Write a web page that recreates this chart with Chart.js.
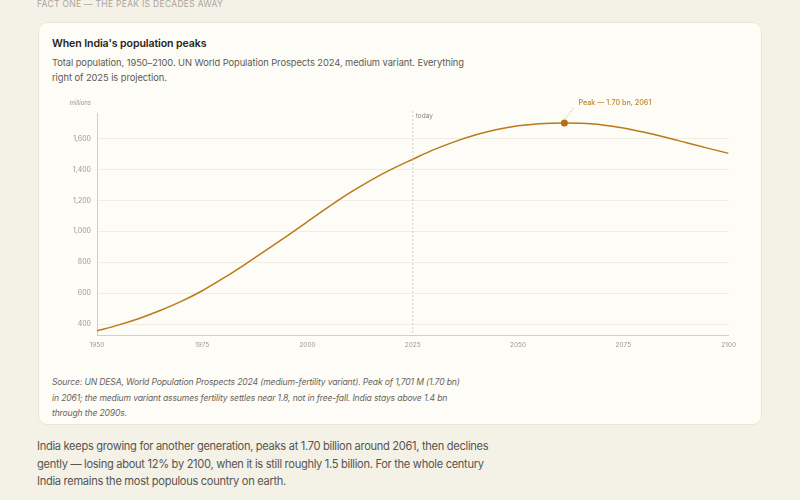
<!DOCTYPE html>
<html>
<head>
<meta charset="utf-8">
<script src="https://cdn.jsdelivr.net/npm/chart.js@4.4.1/dist/chart.umd.min.js"></script>
<style>
  html, body { margin: 0; padding: 0; }
  body {
    width: 800px; height: 500px; overflow: hidden;
    background: #f4f1e7;
    font-family: Inter, "Noto Sans", sans-serif;
    position: relative;
  }
  .kicker {
    position: absolute; left: 37px; top: -1px;
    font-size: 8.5px; letter-spacing: 0.3px; color: #a9a69c;
  }
  .card {
    position: absolute; left: 38px; top: 22px; width: 724px; height: 403px;
    background: #fefcf6; border: 1px solid #ebe6d8; border-radius: 9px;
    box-sizing: border-box;
  }
  .title {
    position: absolute; left: 13px; top: 14px;
    font-size: 10.6px; font-weight: 600; color: #262523; letter-spacing: -0.1px;
  }
  .sub {
    position: absolute; left: 13px; top: 33px; width: 420px;
    font-size: 9.3px; line-height: 14.5px; color: #5c5a55; letter-spacing: -0.05px;
  }
  .chartbox {
    position: absolute; left: 13px; top: 70px; width: 690px; height: 265px;
  }
  .source {
    position: absolute; left: 13px; top: 352px; width: 412px;
    font-size: 8.6px; line-height: 15.6px; color: #67645d; font-style: italic;
    letter-spacing: -0.15px;
  }
  .para {
    position: absolute; left: 37px; top: 438px; width: 470px;
    font-size: 11.1px; line-height: 17.5px; color: #57554f; letter-spacing: -0.3px;
  }
</style>
</head>
<body>
<div class="kicker">FACT ONE — THE PEAK IS DECADES AWAY</div>
<div class="card">
  <div class="title">When India's population peaks</div>
  <div class="sub">Total population, 1950–2100. UN World Population Prospects 2024, medium variant. Everything right of 2025 is projection.</div>
  <div class="chartbox"><canvas id="chart"></canvas></div>
  <div class="source">Source: UN DESA, World Population Prospects 2024 (medium-fertility variant). Peak of 1,701 M (1.70 bn) in 2061; the medium variant assumes fertility settles near 1.8, not in free-fall. India stays above 1.4 bn through the 2090s.</div>
</div>
<div class="para">India keeps growing for another generation, peaks at 1.70 billion around 2061, then declines gently — losing about 12% by 2100, when it is still roughly 1.5 billion. For the whole century India remains the most populous country on earth.</div>

<script>
// population, millions
const years = [1950, 1955, 1960, 1965, 1970, 1975, 1980, 1985, 1990, 1995, 2000, 2005, 2010, 2015, 2020, 2025,
  2030, 2035, 2040, 2045, 2050, 2055, 2061, 2065, 2070, 2075, 2080, 2085, 2090, 2095, 2100];
const population = [357, 394, 437, 488, 547, 616, 697, 784, 875, 968, 1063, 1158, 1248, 1330, 1402, 1466,
  1528, 1580, 1624, 1658, 1682, 1696, 1701, 1698, 1688, 1668, 1640, 1608, 1573, 1538, 1504];
const xTicks = [1950, 1975, 2000, 2025, 2050, 2075, 2100];
const yTicks = [400, 600, 800, 1000, 1200, 1400, 1600];
const todayYear = 2025;
const peakYear = 2061;
const peakLabel = "Peak — 1.70 bn, 2061";

const peakIndex = years.indexOf(peakYear);

const data = {
  datasets: [
    {
      label: "India",
      data: years.map((y, i) => ({ x: y, y: population[i] })),
      borderColor: "#b9791c",
      borderWidth: 1.5,
      cubicInterpolationMode: "monotone",
      pointRadius: (ctx) => (ctx.dataIndex === peakIndex ? 3.5 : 0),
      pointBackgroundColor: "#b5700f",
      pointBorderWidth: 0,
      fill: false,
    },
  ],
};

// today line, peak label, "millions" caption
const extras = {
  id: "extras",
  afterDatasetsDraw(chart) {
    const { ctx, chartArea, scales } = chart;
    const x = scales.x.getPixelForValue(todayYear);
    ctx.save();
    ctx.strokeStyle = "#c9c5bb";
    ctx.lineWidth = 0.8;
    ctx.setLineDash([2, 2]);
    ctx.beginPath();
    ctx.moveTo(x, chartArea.top - 2);
    ctx.lineTo(x, chartArea.bottom);
    ctx.stroke();
    ctx.setLineDash([]);
    ctx.fillStyle = "#8a877f";
    ctx.font = "6.5px Inter";
    ctx.textBaseline = "middle";
    ctx.fillText("today", x + 3, chartArea.top + 3);

    const px = scales.x.getPixelForValue(peakYear);
    const py = scales.y.getPixelForValue(population[peakIndex]);
    ctx.strokeStyle = "#c9a36a";
    ctx.lineWidth = 0.8;
    ctx.setLineDash([1.5, 1.5]);
    ctx.beginPath();
    ctx.moveTo(px + 1, py - 4);
    ctx.lineTo(px + 10, py - 16);
    ctx.stroke();
    ctx.setLineDash([]);
    ctx.fillStyle = "#c0842a";
    ctx.font = "500 7.2px Inter";
    ctx.fillText(peakLabel, px + 14, py - 20);

    ctx.fillStyle = "#9a978f";
    ctx.font = "italic 6px Inter";
    ctx.textAlign = "right";
    ctx.fillText("millions", chartArea.left - 6, chartArea.top - 10);
    ctx.restore();
  },
};

const configChart = {
  type: "line",
  data: data,
  options: {
    responsive: true,
    maintainAspectRatio: false,
    animation: false,
    layout: { padding: { top: 20, right: 12, left: 0, bottom: 0 } },
    plugins: { legend: { display: false }, tooltip: { enabled: false } },
    scales: {
      x: {
        type: "linear",
        min: 1950,
        max: 2100,
        afterBuildTicks: (axis) => { axis.ticks = xTicks.map((v) => ({ value: v })); },
        grid: { display: false, drawTicks: false },
        border: { color: "#d3cfc5", width: 1 },
        ticks: {
          callback: (v) => String(v),
          color: "#9c998f",
          font: { size: 6.5, family: "Inter" },
          padding: 6,
          maxRotation: 0,
        },
        afterFit: (axis) => { axis.height = 23; },
      },
      y: {
        min: 330,
        max: 1765,
        afterBuildTicks: (axis) => { axis.ticks = yTicks.map((v) => ({ value: v })); },
        ticks: {
          color: "#9c998f",
          font: { size: 7, family: "Inter" },
          padding: 6,
        },
        grid: { color: "#ece9e0", lineWidth: 0.8, drawTicks: false },
        border: { color: "#d3cfc5", width: 1 },
        afterFit: (axis) => { axis.width = 45; },
      },
    },
  },
  plugins: [extras],
};

const chart = new Chart(document.getElementById("chart"), configChart);
</script>
</body>
</html>
